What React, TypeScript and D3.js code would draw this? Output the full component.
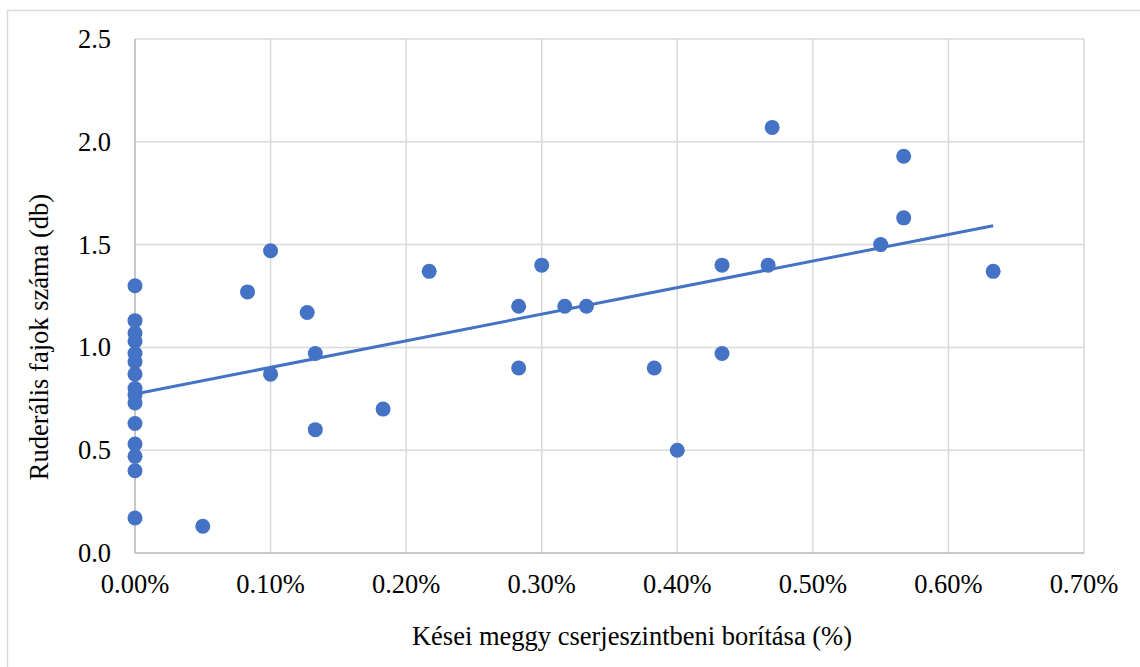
import React from "react";
import * as d3 from "d3";

const xValues: number[] = [
  0, 0, 0, 0, 0, 0, 0, 0, 0, 0, 0, 0, 0, 0, 0,
  0.05, 0.083, 0.1, 0.1, 0.127, 0.133, 0.133, 0.183, 0.217, 0.283, 0.283, 0.3,
  0.317, 0.333, 0.383, 0.4, 0.433, 0.433, 0.467, 0.47, 0.55, 0.567, 0.567, 0.633,
];
const yValues: number[] = [
  1.3, 1.13, 1.07, 1.03, 0.97, 0.93, 0.87, 0.8, 0.77, 0.73, 0.63, 0.53, 0.47, 0.4, 0.17,
  0.13, 1.27, 1.47, 0.87, 1.17, 0.97, 0.6, 0.7, 1.37, 1.2, 0.9, 1.4,
  1.2, 1.2, 0.9, 0.5, 1.4, 0.97, 1.4, 2.07, 1.5, 1.93, 1.63, 1.37,
];
const xTicks: number[] = [0, 0.1, 0.2, 0.3, 0.4, 0.5, 0.6, 0.7];
const yTicks: number[] = [0, 0.5, 1.0, 1.5, 2.0, 2.5];
const xTitle = "Kései meggy cserjeszintbeni borítása (%)";
const yTitle = "Ruderális fajok száma (db)";

export default function App() {
  const W = 1140, H = 667;
  const left = 135, right = 1084, top = 39, bottom = 553;
  const x = d3.scaleLinear().domain([0, 0.7]).range([left, right]);
  const y = d3.scaleLinear().domain([0, 2.5]).range([bottom, top]);
  const font = "'Liberation Serif', 'Times New Roman', serif";
  const color = "#4472C4";
  const grid = "#d9d9d9";
  const fs = 26.5;

  const n = xValues.length;
  const mx = d3.mean(xValues)!;
  const my = d3.mean(yValues)!;
  let sxy = 0, sxx = 0;
  for (let i = 0; i < n; i++) {
    sxy += (xValues[i] - mx) * (yValues[i] - my);
    sxx += (xValues[i] - mx) ** 2;
  }
  const slope = sxy / sxx;
  const intercept = my - slope * mx;
  const x0 = d3.min(xValues)!, x1 = d3.max(xValues)!;
  const line = d3.line<number>().x((d) => x(d)).y((d) => y(intercept + slope * d));

  return (
    <svg width={W} height={H} style={{ position: "absolute", left: 0, top: 0 }}>
      <rect x={0} y={0} width={W} height={H} fill="#fff" />
      <rect x={7.5} y={10.5} width={W + 20} height={H + 20} fill="none" stroke="#d9d9d9" strokeWidth={1.5} />
      {xTicks.map((t) => (
        <line key={"gx" + t} x1={x(t)} x2={x(t)} y1={top} y2={bottom} stroke={grid} strokeWidth={1.5} />
      ))}
      {yTicks.map((t) => (
        <line key={"gy" + t} x1={left} x2={right} y1={y(t)} y2={y(t)} stroke={grid} strokeWidth={1.5} />
      ))}
      <line x1={left} x2={left} y1={top} y2={bottom} stroke="#bfbfbf" strokeWidth={1.5} />
      <line x1={left} x2={right} y1={bottom} y2={bottom} stroke="#bfbfbf" strokeWidth={1.5} />
      {xTicks.map((t) => (
        <text key={"tx" + t} x={x(t)} y={593} textAnchor="middle" fontFamily={font} fontSize={fs} fill="#000">
          {t.toFixed(2) + "%"}
        </text>
      ))}
      {yTicks.map((t) => (
        <text key={"ty" + t} x={111} y={y(t) + 9} textAnchor="end" fontFamily={font} fontSize={fs} fill="#000">
          {t.toFixed(1)}
        </text>
      ))}
      {xValues.map((v, i) => (
        <circle key={"p" + i} cx={x(v)} cy={y(yValues[i])} r={7.5} fill={color} />
      ))}
      <path d={line([x0, x1]) || ""} stroke={color} strokeWidth={3} fill="none" />
      <text x={632} y={645} textAnchor="middle" fontFamily={font} fontSize={fs} fill="#000">
        {xTitle}
      </text>
      <text transform={`translate(48,337) rotate(-90)`} textAnchor="middle" fontFamily={font} fontSize={fs} fill="#000">
        {yTitle}
      </text>
    </svg>
  );
}
